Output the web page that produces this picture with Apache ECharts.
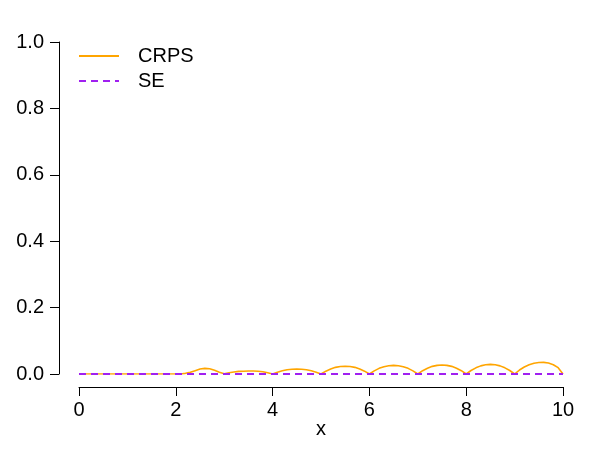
<!DOCTYPE html>
<html>
<head>
<meta charset="utf-8">
<script src="https://cdn.jsdelivr.net/npm/echarts@6/dist/echarts.min.js"></script>
<style>
  html, body { margin: 0; padding: 0; background: #fff; }
  #chart { width: 598px; height: 465px; }
</style>
</head>
<body>
<div id="chart"></div>
<script>
var crpsX = [0,
  2.0, 2.1, 2.2, 2.3, 2.4, 2.5, 2.6, 2.7, 2.8, 2.9,
  3.0, 3.1, 3.2, 3.3, 3.4, 3.5, 3.6, 3.7, 3.8, 3.9,
  4.0, 4.1, 4.2, 4.3, 4.4, 4.5, 4.6, 4.7, 4.8, 4.9,
  5.0, 5.1, 5.2, 5.3, 5.4, 5.5, 5.6, 5.7, 5.8, 5.9,
  6.0, 6.1, 6.2, 6.3, 6.4, 6.5, 6.6, 6.7, 6.8, 6.9,
  7.0, 7.1, 7.2, 7.3, 7.4, 7.5, 7.6, 7.7, 7.8, 7.9,
  8.0, 8.1, 8.2, 8.3, 8.4, 8.5, 8.6, 8.7, 8.8, 8.9,
  9.0, 9.1, 9.2, 9.3, 9.4, 9.5, 9.6, 9.7, 9.8, 9.9,
  10.0];
var crpsY = [0,
  0, 0, 0.002, 0.005, 0.010, 0.015, 0.017, 0.016, 0.011, 0.005,
  0.001, 0.004, 0.006, 0.008, 0.0085, 0.009, 0.009, 0.0085, 0.007, 0.004,
  0, 0.0055, 0.010, 0.013, 0.0145, 0.015, 0.0145, 0.013, 0.010, 0.0055,
  0, 0.0085, 0.015, 0.020, 0.0225, 0.023, 0.0225, 0.020, 0.015, 0.0085,
  0, 0.0095, 0.017, 0.022, 0.025, 0.026, 0.025, 0.022, 0.017, 0.0095,
  0, 0.010, 0.0175, 0.023, 0.026, 0.027, 0.026, 0.023, 0.0175, 0.010,
  0, 0.0105, 0.0185, 0.0245, 0.028, 0.029, 0.028, 0.0245, 0.0185, 0.0105,
  0, 0.012, 0.021, 0.028, 0.0325, 0.0345, 0.035, 0.033, 0.028, 0.019,
  0];
var seX = [0, 10];
var seY = [0, 0];
var xTicks = [0, 2, 4, 6, 8, 10];
var yTicks = [0, 0.2, 0.4, 0.6, 0.8, 1.0];

function pairs(xs, ys) {
  var out = [];
  for (var i = 0; i < xs.length; i++) out.push([xs[i], ys[i]]);
  return out;
}

var font = 'Liberation Sans, Arial, Helvetica, sans-serif';
var myChart = echarts.init(document.getElementById('chart'));
var option = {
  animation: false,
  backgroundColor: '#fff',
  textStyle: { fontFamily: font },
  grid: { left: 79, right: 35, top: 42, bottom: 91 },
  legend: {
    orient: 'vertical',
    left: 73,
    top: 41,
    itemWidth: 40,
    itemHeight: 20,
    itemGap: 5,
    itemStyle: { opacity: 0 },
    textStyle: { fontSize: 20, color: '#000', fontFamily: font, padding: [0, 0, 0, 14] },
    data: ['CRPS', 'SE']
  },
  xAxis: {
    type: 'value',
    min: xTicks[0],
    max: xTicks[xTicks.length - 1],
    interval: 2,
    offset: 13,
    name: 'x',
    nameLocation: 'middle',
    nameGap: 32,
    nameMoveOverlap: false,
    nameTextStyle: { fontSize: 20, color: '#000', fontFamily: font },
    axisLine: { onZero: false, lineStyle: { color: '#000', width: 1 } },
    axisTick: { length: 9, lineStyle: { color: '#000' } },
    axisLabel: { fontSize: 20, color: '#000', margin: 13, fontFamily: font },
    splitLine: { show: false }
  },
  yAxis: {
    type: 'value',
    min: yTicks[0],
    max: yTicks[yTicks.length - 1],
    interval: 0.2,
    offset: 20,
    axisLine: { show: true, onZero: false, lineStyle: { color: '#000', width: 1 } },
    axisTick: { show: true, length: 9, lineStyle: { color: '#000' } },
    axisLabel: {
      fontSize: 20, color: '#000', margin: 15, fontFamily: font,
      formatter: function (v) { return v.toFixed(1); }
    },
    splitLine: { show: false }
  },
  series: [
    {
      name: 'CRPS',
      type: 'line',
      symbol: 'none',
      color: '#FFA500',
      lineStyle: { color: '#FFA500', width: 1.6 },
      data: pairs(crpsX, crpsY)
    },
    {
      name: 'SE',
      type: 'line',
      symbol: 'none',
      color: '#A020F0',
      lineStyle: { color: '#A020F0', width: 2, type: [7, 5] },
      data: pairs(seX, seY)
    }
  ]
};
myChart.setOption(option);
</script>
</body>
</html>
